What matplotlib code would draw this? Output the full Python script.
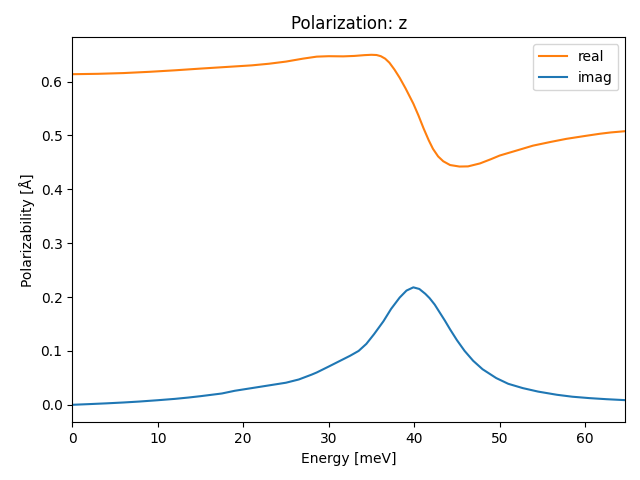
import matplotlib
matplotlib.use("Agg")
import matplotlib.pyplot as plt

### DATOS ###
energia_real = [0, 3, 6, 9, 12, 15, 18, 21, 23, 25, 27, 28.6, 30, 31.7, 33, 34.2, 35,
                35.6, 36.1, 36.6, 37.1, 37.7, 38.3, 39, 39.9, 40.5, 41.1, 41.7, 42.2,
                42.8, 43.4, 44.2, 45.3, 46.3, 47.7, 49, 50, 52, 53.9, 56, 57.8, 60,
                61.7, 63, 64.6]
real = [0.6136, 0.6143, 0.6157, 0.618, 0.6208, 0.624, 0.627, 0.630, 0.633, 0.637,
        0.6425, 0.6462, 0.647, 0.6467, 0.6475, 0.649, 0.6496, 0.6492, 0.647, 0.6425,
        0.635, 0.622, 0.607, 0.587, 0.559, 0.537, 0.513, 0.491, 0.475, 0.461, 0.452,
        0.445, 0.4422, 0.4425, 0.448, 0.456, 0.4626, 0.472, 0.481, 0.488, 0.4936,
        0.499, 0.503, 0.5055, 0.5077]

energia_imag = [0, 2, 4, 6, 7.8, 10, 12, 13.6, 15, 17.5, 19, 21, 23, 25, 26.5, 28,
                28.6, 30, 31, 32.5, 33.5, 34.4, 35.3, 36.4, 37.3, 38.3, 39.1, 39.9,
                40.6, 41.3, 41.8, 42.4, 43, 43.6, 44.2, 45, 45.9, 46.9, 48, 49.6, 51,
                52.7, 54.5, 56.7, 58.5, 60.5, 62.5, 64.6]
imag = [0.0, 0.0013, 0.0027, 0.0043, 0.006, 0.0085, 0.0110, 0.0135, 0.0160, 0.021,
        0.026, 0.031, 0.036, 0.041, 0.047, 0.056, 0.060, 0.071, 0.079, 0.091, 0.100,
        0.113, 0.131, 0.155, 0.178, 0.199, 0.212, 0.218, 0.215, 0.206, 0.198, 0.186,
        0.171, 0.156, 0.140, 0.120, 0.100, 0.0817, 0.066, 0.0496, 0.039, 0.031,
        0.0245, 0.0186, 0.015, 0.0124, 0.0104, 0.0087]

### GRAFICO ###
fig, ax = plt.subplots(figsize=(6.4, 4.8), dpi=100)
ax.plot(energia_real, real, color='C1', label='real')
ax.plot(energia_imag, imag, color='C0', label='imag')
ax.set_xlim(0, 64.7)
ax.set_title('Polarization: z')
ax.set_xlabel('Energy [meV]')
ax.set_ylabel('Polarizability [Å]')
ax.legend(loc='upper right')
fig.subplots_adjust(left=72.3 / 640, right=625.3 / 640,
                    top=1 - 37.3 / 480, bottom=1 - 422.3 / 480)
fig.savefig('out.png')
